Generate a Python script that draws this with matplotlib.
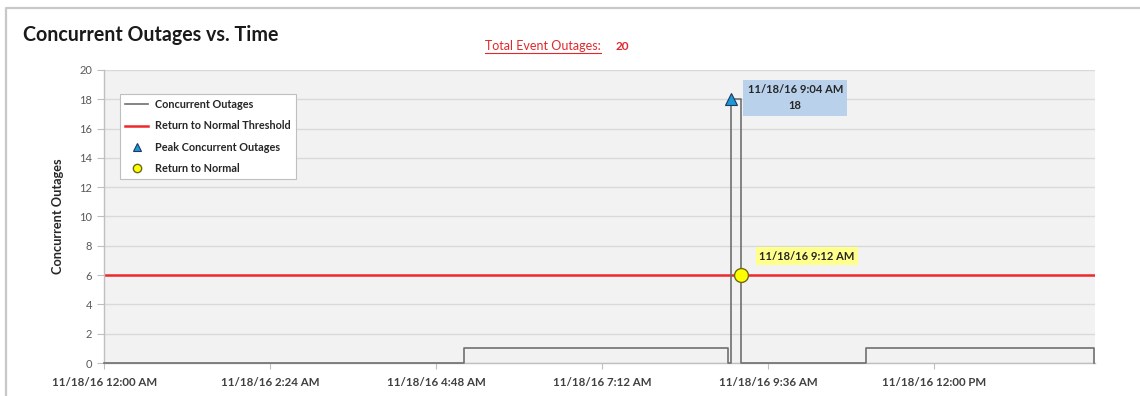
import matplotlib
matplotlib.use("Agg")
import matplotlib.pyplot as plt
from matplotlib.lines import Line2D
from matplotlib.ticker import FixedLocator, FuncFormatter
import numpy as np

plt.rcParams['font.family'] = ['Lato', 'DejaVu Sans']

# Concurrent outages over the day (step changes), times as HH:MM
step_times = ["00:00", "05:12", "09:01", "09:04", "09:12", "11:01", "14:19"]
step_values = [0, 1, 0, 18, 0, 1, 0]

threshold = 6
peak_time, peak_value = "09:04", 18
normal_time = "09:12"
total_event_outages = 20
date_label = "11/18/16"

tick_times = ["00:00", "02:24", "04:48", "07:12", "09:36", "12:00"]
y_ticks = list(range(0, 21, 2))


def to_hours(t):
    h, m = t.split(":")
    return int(h) + int(m) / 60.0


def fmt_time(hours):
    h = int(hours)
    m = int(round((hours - h) * 60))
    suffix = "AM" if h < 12 else "PM"
    h12 = h % 12
    if h12 == 0:
        h12 = 12
    return f"{date_label} {h12}:{m:02d} {suffix}"


x_steps = np.array([to_hours(t) for t in step_times])
y_steps = np.array(step_values)
x_peak = to_hours(peak_time)
x_normal = to_hours(normal_time)

fig = plt.figure(figsize=(11.4, 3.96), dpi=100)
ax = fig.add_axes([104.5 / 1140, 1 - 363 / 396, (1095 - 104.5) / 1140, 293 / 396])

ax.set_facecolor('#f2f2f2')
ax.set_xlim(0, x_steps[-1] + 0.01)
ax.set_ylim(0, 20)
ax.yaxis.set_major_locator(FixedLocator(y_ticks))
ax.grid(axis='y', color='#d9d9d9', lw=1.0)
ax.set_axisbelow(True)

for side in ('top', 'right'):
    ax.spines[side].set_visible(False)
for side in ('left', 'bottom'):
    ax.spines[side].set_color('#bfbfbf')
    ax.spines[side].set_linewidth(1.0)

ax.xaxis.set_major_locator(FixedLocator([to_hours(t) for t in tick_times]))
ax.xaxis.set_major_formatter(FuncFormatter(lambda v, p: fmt_time(v)))
ax.tick_params(axis='x', length=4, color='#bfbfbf', labelsize=8.3,
               labelcolor='#404040', pad=6)
ax.tick_params(axis='y', length=5, color='#bfbfbf', labelsize=8,
               labelcolor='#595959', pad=4)
for lab in ax.get_xticklabels():
    lab.set_fontweight('bold')

ax.set_ylabel("Concurrent Outages", fontsize=9.2, fontweight='bold',
              color='#262626', labelpad=11)

# Series
ax.step(x_steps, y_steps, where='post', color='#707070', lw=1.2,
        label='Concurrent Outages', clip_on=False, zorder=3)
ax.axhline(threshold, color='#f0282d', lw=1.8, label='Return to Normal Threshold',
           zorder=2)
ax.plot([x_peak], [peak_value], marker='^', ms=9, mfc='#1a9ad6', mec='#1f3864',
        mew=0.8, ls='none', label='Peak Concurrent Outages', zorder=5, clip_on=False)
ax.plot([x_normal], [threshold], marker='o', ms=10, mfc='#ffff00', mec='#6b6b1a',
        mew=1.0, ls='none', label='Return to Normal', zorder=5)

leg = ax.legend(loc='upper left', bbox_to_anchor=(0.0155, 0.919), fontsize=7.8,
                frameon=True, fancybox=False, edgecolor='#bfbfbf', framealpha=1,
                labelspacing=0.95, handlelength=2.1, handletextpad=0.6,
                borderpad=0.5, borderaxespad=0, markerscale=0.6)
leg.get_frame().set_linewidth(0.8)
for t in leg.get_texts():
    t.set_fontweight('bold')
    t.set_color('#262626')

# Data callouts
ax.annotate(f"{fmt_time(x_peak)}\n{peak_value}", xy=(x_peak, peak_value),
            xytext=(46, 1), textcoords='offset points', ha='center', va='center',
            fontsize=8, fontweight='bold', color='#262626', linespacing=1.55,
            bbox=dict(boxstyle='square,pad=0.4', fc='#b9d1ea', ec='none'),
            zorder=6, annotation_clip=False)
ax.annotate(fmt_time(x_normal), xy=(x_normal, threshold),
            xytext=(47.5, 13.7), textcoords='offset points', ha='center', va='center',
            fontsize=8, fontweight='bold', color='#262626',
            bbox=dict(boxstyle='square,pad=0.3', fc='#ffff8c', ec='none'),
            zorder=6)

# Title and total
fig.text(23 / 1140, 1 - 41 / 396, "Concurrent Outages vs. Time", fontsize=14.1,
         fontweight='bold', color='#1a1a1a', va='baseline', ha='left')
tot = fig.text(485 / 1140, 1 - 50 / 396, "Total Event Outages:", fontsize=9,
               color='#e0282d', va='baseline', ha='left')
fig.text(616 / 1140, 1 - 50 / 396, str(total_event_outages), fontsize=8.5,
         fontweight='bold', color='#e0282d', va='baseline', ha='left')

fig.canvas.draw()
bb = tot.get_window_extent().transformed(fig.transFigure.inverted())
fig.add_artist(Line2D([bb.x0, bb.x1], [1 - 52.5 / 396] * 2, color='#e0282d', lw=0.8))

# Outer chart frame (left and top edges)
fig.add_artist(Line2D([6 / 1140, 6 / 1140, 1.0], [0.0, 1 - 8 / 396, 1 - 8 / 396],
                      color='#c8c8c8', lw=1.6))

fig.savefig("out.png", dpi=100)
